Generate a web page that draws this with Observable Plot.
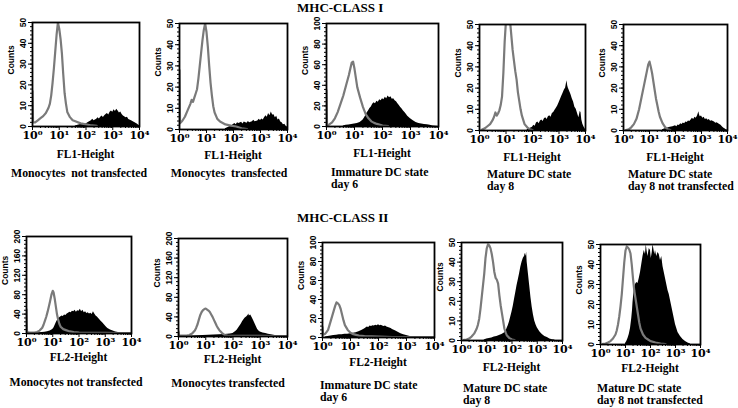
<!DOCTYPE html>
<html><head><meta charset="utf-8">
<script src="https://cdn.jsdelivr.net/npm/d3@7"></script>
<script src="https://cdn.jsdelivr.net/npm/@observablehq/plot@0.6"></script>
<style>
body{margin:0;background:#fff}
#fig{position:relative;width:738px;height:408px;background:#fff;overflow:hidden;font-family:"Liberation Serif","Times New Roman",serif;font-weight:bold;color:#000}
.t{position:absolute;white-space:pre;line-height:12px;font-size:11.8px}
.c{transform:translateX(-50%);text-align:center}
.ch{font-size:11.5px}
.title{font-size:13px;line-height:15px}
.panel{position:absolute}
.panel svg{overflow:visible}
</style></head><body><div id="fig"></div>
<script>
// ---- data: [log10 fluorescence, counts] ----
const p1Gray = [[0,17],[0.02,2],[0.1,2],[0.2,3],[0.3,4],[0.4,5],[0.5,6.5],[0.6,9],[0.65,11],[0.7,15],[0.75,21],[0.8,28],[0.85,36],[0.9,44],[0.95,50],[1.0,47],[1.05,42],[1.1,35],[1.15,25],[1.2,16],[1.25,11],[1.3,7],[1.4,4.5],[1.5,3],[1.6,2.5],[1.8,1.5],[2.0,1],[2.2,0.5],[2.4,0.3]];
const p1Black = [[1.6,0.3],[1.8,1],[1.9,1.5],[2.0,1.2],[2.1,2],[2.2,2.8],[2.25,3.5],[2.3,2.8],[2.4,3.5],[2.45,4.2],[2.5,3.6],[2.55,4.5],[2.6,5],[2.65,4.3],[2.7,5.2],[2.75,5.8],[2.8,6.3],[2.85,5.5],[2.9,6.8],[2.95,7.5],[3.0,6.8],[3.05,8],[3.1,7.2],[3.15,8.3],[3.2,7.5],[3.25,6.5],[3.3,7],[3.35,5.8],[3.4,5],[3.5,4.2],[3.55,4.5],[3.6,3.4],[3.7,2.8],[3.8,2],[3.9,1.3],[3.95,0.8],[4.0,0.4]];
const p2Gray = [[0,28],[0.02,3],[0.1,4],[0.2,6],[0.3,9],[0.4,12],[0.45,14],[0.5,13],[0.55,15],[0.6,17],[0.65,19],[0.7,24],[0.75,30],[0.8,36],[0.85,42],[0.9,47],[0.95,50],[1.0,46],[1.05,39],[1.1,30],[1.15,22],[1.2,16],[1.25,11],[1.3,8],[1.4,5],[1.5,3.8],[1.7,2.4],[1.9,1.8],[2.1,1.4],[2.3,0.6],[2.5,0.2]];
const p2Black = [[1.7,0.3],[1.8,1],[1.9,1.5],[2.0,2.3],[2.05,2.8],[2.1,2.2],[2.15,3.2],[2.2,2.8],[2.3,3.4],[2.35,2.6],[2.4,3.5],[2.5,3],[2.55,3.8],[2.6,3.2],[2.7,3.6],[2.75,4.4],[2.8,3.6],[2.9,4],[2.95,4.8],[3.0,4.2],[3.05,5],[3.1,4.5],[3.15,5.6],[3.2,6.5],[3.25,5.8],[3.3,7.5],[3.35,6.5],[3.4,8.2],[3.45,6.8],[3.5,7],[3.55,5.5],[3.6,6.2],[3.65,4.5],[3.7,5],[3.75,3.5],[3.8,3.2],[3.85,2.2],[3.9,2.5],[3.95,1.5],[4.0,1.2]];
const p3Gray = [[0,35],[0.02,1],[0.1,2],[0.2,4],[0.3,8],[0.4,14],[0.5,22],[0.6,30],[0.7,40],[0.8,50],[0.85,56],[0.9,62],[0.95,63],[1.0,56],[1.05,47],[1.1,38],[1.2,28],[1.3,19],[1.4,12],[1.5,8],[1.6,5],[1.7,3.5],[1.8,2.5],[2.0,1],[2.2,0.3]];
const p3Black = [[0.6,0.5],[0.7,1.2],[0.8,1.5],[0.9,2],[1.0,2.5],[1.1,3],[1.2,4],[1.3,6],[1.35,8],[1.4,10.5],[1.45,13],[1.5,15],[1.55,17.5],[1.6,19],[1.65,21.5],[1.7,23],[1.75,22],[1.8,24.5],[1.85,23.5],[1.9,26],[1.95,25],[2.0,27],[2.05,26],[2.1,28.5],[2.15,27],[2.2,29.5],[2.25,28],[2.3,29],[2.35,26.5],[2.4,27],[2.45,25],[2.5,24],[2.55,22],[2.6,20.5],[2.65,18.5],[2.7,17],[2.75,15],[2.8,13.5],[2.85,12],[2.9,10],[3.0,7.5],[3.1,5.5],[3.2,4],[3.3,3],[3.4,2.5],[3.5,2],[3.6,1.8],[3.7,1.2],[3.8,0.6],[3.9,0.3],[4.0,0]];
const p4Gray = [[0.1,0.5],[0.2,1],[0.3,2],[0.4,3],[0.5,5],[0.55,6.5],[0.6,8.5],[0.65,7],[0.7,8],[0.75,9.5],[0.8,12],[0.85,16],[0.9,27],[0.95,42],[1.0,52],[1.05,55],[1.1,55],[1.15,52],[1.2,45],[1.25,38],[1.3,33],[1.35,28],[1.4,24],[1.45,18],[1.5,14],[1.55,10],[1.6,7],[1.65,5],[1.7,3],[1.8,1.5],[1.9,0.5],[2.0,0.2]];
const p4Black = [[1.8,0.3],[1.9,1],[2.0,1.5],[2.05,2.5],[2.1,2],[2.15,3.5],[2.2,4],[2.25,3.2],[2.3,4.5],[2.35,5],[2.4,4.2],[2.45,5.5],[2.5,6],[2.55,5.2],[2.6,6.5],[2.65,7],[2.7,6.2],[2.75,8],[2.8,8.5],[2.85,9.5],[2.9,10.5],[2.95,11.5],[3.0,13],[3.05,14.5],[3.1,16],[3.15,17.5],[3.2,19],[3.25,20],[3.3,23.5],[3.33,21],[3.35,20],[3.4,18.5],[3.45,17],[3.5,15],[3.55,13.5],[3.6,11],[3.65,10],[3.7,8],[3.75,6],[3.8,9],[3.83,8.5],[3.86,5],[3.9,3],[3.95,1.5],[4.0,0.5]];
const p5Gray = [[0.1,0.2],[0.2,0.5],[0.3,1.5],[0.4,3],[0.5,5.5],[0.6,10],[0.7,16],[0.8,22],[0.85,25],[0.9,28],[0.95,31],[1.0,32.5],[1.05,30],[1.1,27],[1.15,23],[1.2,19],[1.25,15],[1.3,12],[1.35,9],[1.4,6.5],[1.5,3.5],[1.6,1.6],[1.7,0.6],[1.8,0.2]];
const p5Black = [[1.5,0.3],[1.6,0.8],[1.7,1.2],[1.8,1.5],[1.9,1.8],[2.0,2.2],[2.05,1.8],[2.1,2.6],[2.15,2.3],[2.2,3.2],[2.25,2.8],[2.3,3.5],[2.35,3.2],[2.4,4],[2.45,3.8],[2.5,4.5],[2.55,4.2],[2.6,5],[2.65,5.8],[2.7,5.2],[2.75,6.2],[2.8,5.8],[2.85,7],[2.9,8.8],[2.92,7.5],[2.95,6.5],[3.0,6.8],[3.05,5.8],[3.1,6.3],[3.15,5.2],[3.2,5.6],[3.25,4.8],[3.3,5.2],[3.35,4.4],[3.4,4.6],[3.5,4],[3.55,3.4],[3.6,3.6],[3.7,2.8],[3.75,2.5],[3.8,1.8],[3.85,1.2],[3.9,0.8],[3.95,0.4],[4.0,0.1]];
const p6Gray = [[0,50],[0.02,3],[0.1,2],[0.2,2],[0.3,2],[0.4,3],[0.5,6],[0.6,12],[0.65,18],[0.7,26],[0.75,34],[0.8,44],[0.85,55],[0.9,67],[0.95,80],[1.0,88],[1.03,85],[1.08,70],[1.12,55],[1.16,40],[1.2,30],[1.25,20],[1.3,14],[1.4,9],[1.5,7],[1.6,5],[1.8,3],[2.0,2],[2.5,1.5],[3.0,1.2],[3.5,1],[4.0,0.8]];
const p6Black = [[0.3,0.5],[0.4,1],[0.5,1.5],[0.6,2],[0.7,2.5],[0.8,3.5],[0.9,5],[1.0,8],[1.05,12],[1.1,18],[1.15,24],[1.2,29],[1.25,32],[1.3,34],[1.35,36],[1.4,35],[1.45,38],[1.5,37],[1.55,40],[1.6,42],[1.65,44],[1.7,43],[1.75,46],[1.8,45],[1.85,48],[1.9,44],[1.95,47],[2.0,46],[2.05,50],[2.1,45],[2.15,48],[2.2,43],[2.25,45],[2.3,41],[2.35,43],[2.4,40],[2.45,42],[2.5,39],[2.55,45],[2.6,40],[2.65,36],[2.7,34],[2.75,31],[2.8,28],[2.85,25],[2.9,22],[2.95,19],[3.0,16],[3.05,13],[3.1,10.5],[3.2,7],[3.3,5],[3.4,3],[3.5,2],[3.6,1.2],[3.7,0.6],[3.8,0.2]];
const p7Gray = [[0,10],[0.02,2],[0.1,2],[0.2,2],[0.3,2],[0.4,3],[0.5,6],[0.6,12],[0.65,18],[0.7,25],[0.75,35],[0.8,44],[0.85,50],[0.9,54],[0.95,56],[1.0,57],[1.05,55],[1.1,53],[1.15,50],[1.2,45],[1.25,40],[1.3,34],[1.35,28],[1.4,22],[1.45,17],[1.5,13],[1.6,7],[1.7,3],[1.8,2],[2.0,1.5],[2.5,1.2],[3.0,1.5],[3.5,1],[4.0,1]];
const p7Black = [[0.3,0.5],[0.5,1],[0.7,1.5],[0.9,2],[1.1,2.5],[1.3,3],[1.5,3.5],[1.7,4],[1.8,4.5],[1.9,5],[2.0,6],[2.05,8],[2.1,10],[2.15,13],[2.2,17],[2.25,21],[2.3,25],[2.35,30],[2.4,34],[2.45,38],[2.5,40],[2.55,43],[2.58,46],[2.6,42],[2.65,44],[2.7,39],[2.75,33],[2.8,27],[2.85,21],[2.9,15],[2.95,11],[3.0,9],[3.1,7],[3.2,6],[3.3,4.5],[3.4,3.5],[3.5,2.5],[3.6,1.5],[3.7,1],[3.8,0.5],[3.9,0.2]];
const p8Gray = [[0,11],[0.02,3],[0.1,4],[0.15,6],[0.2,8],[0.25,13],[0.3,18],[0.35,23],[0.4,28],[0.45,33],[0.5,37],[0.55,36],[0.6,34],[0.65,30],[0.7,24],[0.75,18],[0.8,13],[0.9,8],[1.0,5],[1.1,3.5],[1.3,2],[1.5,1.5],[2.0,1],[2.5,0.5],[3.0,0.5],[4.0,0.3]];
const p8Black = [[0.1,0.5],[0.2,1],[0.3,1.5],[0.4,2],[0.5,2.5],[0.6,3],[0.7,3],[0.8,3.5],[0.9,3.5],[1.0,4],[1.1,4.5],[1.2,5],[1.3,6],[1.4,7.5],[1.5,9],[1.55,10],[1.6,11],[1.65,10.5],[1.7,12],[1.75,11.5],[1.8,12.5],[1.85,12],[1.9,13],[1.95,12.5],[2.0,13.5],[2.05,12.5],[2.1,13],[2.15,12],[2.2,11.5],[2.25,12],[2.3,11],[2.35,10.5],[2.4,10],[2.45,9.5],[2.5,8.5],[2.6,7],[2.7,5.5],[2.8,4],[2.9,3],[3.0,2],[3.1,1.2],[3.2,0.5],[3.3,0.2]];
const p9Gray = [[0.1,0.3],[0.2,0.5],[0.3,1],[0.4,2],[0.5,3.5],[0.6,6],[0.65,8],[0.7,11],[0.75,16],[0.8,22],[0.85,28],[0.9,34],[0.95,42],[1.0,47],[1.05,49],[1.1,48.5],[1.15,47],[1.2,44],[1.25,40],[1.3,35],[1.35,32],[1.4,31],[1.45,29],[1.5,23],[1.55,18],[1.6,14],[1.65,10],[1.7,6],[1.75,4],[1.8,2.5],[1.9,1.2],[2.0,0.5],[2.1,0.2]];
const p9Black = [[0.9,0.3],[1.0,0.8],[1.1,1],[1.2,1.3],[1.3,1.8],[1.4,2],[1.5,2.5],[1.6,3],[1.7,3.8],[1.75,4.5],[1.8,6],[1.85,7.5],[1.9,9.5],[1.95,12],[2.0,14.5],[2.05,17.5],[2.1,21],[2.15,24.5],[2.2,28],[2.25,31],[2.3,34],[2.35,37.5],[2.4,40],[2.45,42],[2.5,43],[2.52,44.5],[2.55,43],[2.58,45],[2.6,40],[2.65,34],[2.7,28],[2.75,22],[2.8,17],[2.85,13],[2.9,10],[2.95,8],[3.0,6.5],[3.1,4.5],[3.2,3],[3.3,2],[3.4,1.5],[3.5,0.8],[3.6,0.4],[3.7,0.2]];
const p10Gray = [[0.1,0.3],[0.2,0.5],[0.3,1],[0.4,1.7],[0.5,3],[0.6,5],[0.65,7],[0.7,10],[0.75,14],[0.8,19],[0.85,25],[0.9,33],[0.95,41],[1.0,47],[1.05,49],[1.1,48.5],[1.15,47.5],[1.2,45.5],[1.25,40],[1.3,33],[1.35,27],[1.4,23],[1.45,19],[1.5,15],[1.55,11],[1.6,8],[1.7,5],[1.8,3.3],[1.9,2.5],[2.0,1.7],[2.2,1],[2.4,0.5],[2.6,0.2]];
const p10Black = [[1.0,0.5],[1.05,1.5],[1.1,3],[1.15,5],[1.2,8],[1.25,13],[1.28,17],[1.3,21],[1.33,25],[1.36,28],[1.4,30],[1.45,31],[1.5,30.5],[1.55,33],[1.6,36],[1.65,40],[1.7,44],[1.75,47],[1.8,45],[1.83,50],[1.86,47],[1.9,44],[1.95,48],[2.0,47],[2.03,43],[2.07,46],[2.1,50],[2.13,48],[2.17,45],[2.2,47],[2.25,44],[2.3,46],[2.35,45],[2.4,42],[2.45,44],[2.5,39],[2.55,36],[2.6,33],[2.65,30],[2.7,27],[2.75,25],[2.8,22],[2.85,19],[2.9,16],[2.95,13],[3.0,10],[3.05,8],[3.1,6],[3.2,4],[3.3,2.5],[3.4,1.5],[3.5,0.8],[3.6,0.3]];

const titles = ["MHC-CLASS I", "MHC-CLASS II"];
const channelLabels = ["FL1-Height", "FL2-Height"];
const xTickValues = [0, 1, 2, 3, 4];
const xTickLabels = ["10⁰", "10¹", "10²", "10³", "10⁴"];
const yLabel = "Counts";
const yMax = [50, 50, 100, 50, 50, 200, 200, 100, 50, 50];
const yStep = [10, 10, 20, 10, 10, 40, 40, 20, 10, 10];
const captions = [
  "Monocytes  not transfected", "Monocytes  transfected", "Immature DC state\nday 6", "Mature DC state\nday 8", "Mature DC state\nday 8 not transfected",
  "Monocytes not transfected", "Monocytes transfected", "Immature DC state\nday 6", "Mature DC state\nday 8", "Mature DC state\nday 8 not transfected"
];
const blackSeries = [p1Black, p2Black, p3Black, p4Black, p5Black, p6Black, p7Black, p8Black, p9Black, p10Black];
const graySeries = [p1Gray, p2Gray, p3Gray, p4Gray, p5Gray, p6Gray, p7Gray, p8Gray, p9Gray, p10Gray];

// ---- layout (pixels) ----
const frames = [
  {x:32,y:22,w:107,h:104},{x:179,y:23,w:108,h:106},{x:326,y:23,w:112,h:103},{x:479,y:24,w:106,h:106},{x:623,y:24,w:104,h:106},
  {x:26,y:236,w:105,h:97},{x:178,y:238,w:109,h:98},{x:322,y:242,w:112,h:95},{x:461,y:242,w:101,h:98},{x:600,y:244,w:100,h:100}
];
const chanY = [154,155,153,157,157,357,359,362,367,368];
const capPos = [
  {x:79,y:167,c:true},{x:229,y:167,c:true},{x:331,y:166},{x:487,y:168},{x:628,y:168},
  {x:76,y:376,c:true},{x:228,y:377,c:true},{x:320,y:379},{x:463,y:382},{x:597,y:382}
];
const titlePos = [{x:297,y:0},{x:297,y:210}];

const fig = document.getElementById("fig");
function addText(txt, x, y, cls) {
  const d = document.createElement("div");
  d.className = "t " + (cls || "");
  d.textContent = txt;
  d.style.left = x + "px"; d.style.top = y + "px";
  fig.appendChild(d);
}
titles.forEach((t, i) => addText(t, titlePos[i].x, titlePos[i].y, "title"));

const minorX = d3.range(0, 4).flatMap(n => d3.range(2, 10).map(k => n + Math.log10(k)));
const mL = 30, mR = 4, mT = 4, mB = 16;
frames.forEach((fr, i) => {
  const ymax = yMax[i], step = yStep[i];
  const plot = Plot.plot({
    width: fr.w + mL + mR, height: fr.h + mT + mB,
    marginLeft: mL, marginRight: mR, marginTop: mT, marginBottom: mB,
    x: {domain: [0, 4]}, y: {domain: [0, ymax]},
    style: {fontFamily: "Liberation Sans, Arial, sans-serif", fontSize: "8.5px", fontWeight: "bold", background: "transparent", overflow: "visible"},
    marks: [
      Plot.areaY(blackSeries[i], {x: d => d[0], y: d => d[1], fill: "#000", clip: true}),
      Plot.lineY(graySeries[i], {x: d => d[0], y: d => d[1], stroke: "#7a7a7a", strokeWidth: 2.2, clip: true}),
      Plot.frame({stroke: "#000", strokeWidth: 1.8}),
      Plot.axisX({ticks: xTickValues, tickFormat: d => xTickLabels[d], tickSize: 4, tickPadding: 1, fontSize: 11, fontWeight: "bold", fontFamily: "DejaVu Serif, Liberation Serif, serif", label: null}),
      Plot.axisX({ticks: minorX, tickFormat: () => "", tickSize: 2, label: null}),
      Plot.axisY({ticks: d3.range(0, ymax + 1, step), tickSize: 4, tickPadding: 3, tickRotate: -90, label: null}),
      Plot.axisY({ticks: d3.range(0, ymax + 0.001, step / 5), tickSize: 2, tickFormat: () => "", label: null}),
      Plot.text([yLabel], {frameAnchor: "left", rotate: -90, dx: -21, text: d => d})
    ]
  });
  const wrap = document.createElement("div");
  wrap.className = "panel";
  wrap.style.left = (fr.x - mL) + "px";
  wrap.style.top = (fr.y - mT) + "px";
  wrap.appendChild(plot);
  fig.appendChild(wrap);
  addText(channelLabels[i < 5 ? 0 : 1], fr.x + fr.w / 2, chanY[i] - 6, "c ch");
  addText(captions[i], capPos[i].x, capPos[i].y, capPos[i].c ? "c" : "");
});
</script></body></html>
